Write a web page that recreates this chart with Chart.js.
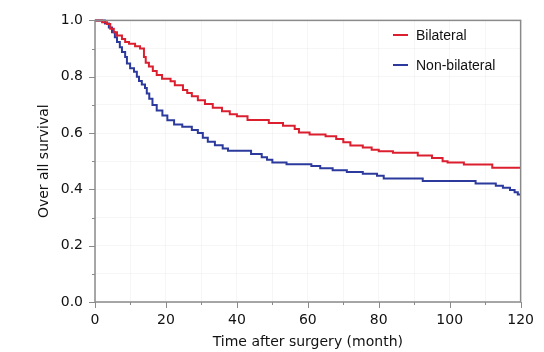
<!DOCTYPE html>
<html>
<head>
<meta charset="utf-8">
<script src="https://cdn.jsdelivr.net/npm/chart.js@4"></script>
<style>
  html, body { margin: 0; padding: 0; background: #fff; }
  #wrap { width: 544px; height: 352px; }
</style>
</head>
<body>
<div id="wrap"><canvas id="chart" width="544" height="352"></canvas></div>
<script>
// Kaplan-Meier steps: time (months) and survival after each drop
const bilateralTime = [0, 2, 3.4, 4.3, 5.3, 6.2, 7.6, 8.5, 9.6, 11.3, 12.7, 13.8, 14.3, 15.2, 16.3, 17.4, 18.9, 21.3, 22.5, 24.8, 26, 27.3, 29, 31, 33.2, 35.8, 38, 40, 43, 49, 53, 56.3, 57.5, 60.5, 65, 68, 70, 72, 75.5, 78, 80, 84, 91, 95, 98, 99.4, 104, 112, 120];
const bilateralSurv = [1.0, 0.993, 0.987, 0.97, 0.958, 0.946, 0.934, 0.923, 0.917, 0.908, 0.9, 0.87, 0.85, 0.836, 0.82, 0.806, 0.793, 0.784, 0.77, 0.753, 0.742, 0.731, 0.716, 0.703, 0.69, 0.677, 0.667, 0.66, 0.646, 0.636, 0.626, 0.614, 0.602, 0.595, 0.589, 0.579, 0.567, 0.556, 0.549, 0.541, 0.535, 0.53, 0.52, 0.511, 0.5, 0.495, 0.488, 0.477, 0.477];

const nonBilateralTime = [0, 2.8, 3.9, 4.8, 5.6, 6.2, 7, 7.6, 8.5, 9, 9.9, 11, 11.8, 12.4, 13.2, 14.1, 14.6, 15.3, 16.2, 17.4, 19, 20.4, 22.3, 24.6, 27.3, 29, 30.4, 31.8, 33.8, 36, 37.5, 44, 47, 48.5, 50, 54, 61, 63.5, 67, 71, 75.5, 79.5, 81.4, 92.4, 107.3, 113, 115, 117, 118.3, 119.2, 120];
const nonBilateralSurv = [1.0, 0.989, 0.975, 0.958, 0.94, 0.923, 0.905, 0.888, 0.87, 0.847, 0.83, 0.818, 0.8, 0.785, 0.772, 0.76, 0.74, 0.722, 0.7, 0.68, 0.662, 0.645, 0.63, 0.622, 0.611, 0.6, 0.583, 0.569, 0.557, 0.545, 0.537, 0.526, 0.514, 0.505, 0.495, 0.489, 0.483, 0.475, 0.468, 0.462, 0.455, 0.448, 0.439, 0.43, 0.421, 0.413, 0.406, 0.398, 0.39, 0.382, 0.382];

const seriesNames = ['Bilateral', 'Non-bilateral'];
const seriesColors = ['#dc1f2e', '#2b3a9c'];

const toPoints = (ts, ss) => ts.map((t, i) => ({ x: t, y: ss[i] }));

const axisGray = '#8a8a8a';
const tickFont = { family: 'DejaVu Sans', size: 14 };
const titleFont = { family: 'DejaVu Sans', size: 14 };

// box around the plot, outward ticks (long at labels, short in between), and the legend
const frameAndLegend = {
  id: 'frameAndLegend',
  afterDraw(chart) {
    const { ctx, chartArea: a, scales: { x, y } } = chart;
    ctx.save();
    ctx.strokeStyle = axisGray;
    ctx.lineWidth = 1.5;
    ctx.strokeRect(a.left, a.top, a.right - a.left, a.bottom - a.top);

    ctx.lineWidth = 1;
    ctx.beginPath();
    for (let t = 0; t <= 120; t += 10) {
      const px = Math.round(x.getPixelForValue(t)) + 0.5;
      ctx.moveTo(px, a.bottom);
      ctx.lineTo(px, a.bottom + (t % 20 === 0 ? 6 : 3));
    }
    for (let k = 0; k <= 10; k++) {
      const py = Math.round(y.getPixelForValue(k / 10)) + 0.5;
      ctx.moveTo(a.left, py);
      ctx.lineTo(a.left - (k % 2 === 0 ? 6 : 3), py);
    }
    ctx.stroke();

    ctx.font = '14px "Liberation Sans", Arial, sans-serif';
    ctx.textBaseline = 'middle';
    ctx.fillStyle = '#111';
    chart.data.datasets.forEach((ds, i) => {
      const ly = 35 + i * 30;
      ctx.strokeStyle = ds.borderColor;
      ctx.lineWidth = 2;
      ctx.beginPath();
      ctx.moveTo(393, ly);
      ctx.lineTo(408, ly);
      ctx.stroke();
      ctx.fillText(ds.label, 416, ly + 1);
    });
    ctx.restore();
  }
};

new Chart(document.getElementById('chart'), {
  type: 'line',
  data: {
    datasets: [
      { label: seriesNames[0], data: toPoints(bilateralTime, bilateralSurv), borderColor: seriesColors[0] },
      { label: seriesNames[1], data: toPoints(nonBilateralTime, nonBilateralSurv), borderColor: seriesColors[1] }
    ]
  },
  options: {
    responsive: false,
    animation: false,
    layout: { padding: { top: 15, right: 22, left: 0, bottom: 0 } },
    elements: {
      line: { borderWidth: 2, stepped: 'before', fill: false },
      point: { radius: 0 }
    },
    datasets: { line: { clip: 4 } },
    plugins: {
      legend: { display: false },
      tooltip: { enabled: false }
    },
    scales: {
      x: {
        type: 'linear',
        min: 0,
        max: 120,
        afterFit: s => { s.height = 50; },
        grid: { color: 'rgba(0,0,0,0.035)', tickLength: 0 },
        border: { display: false },
        ticks: {
          stepSize: 10,
          padding: 10,
          color: '#111',
          font: tickFont,
          autoSkip: false,
          maxRotation: 0,
          callback: v => (v % 20 === 0 ? String(v) : '')
        },
        title: {
          display: true,
          text: 'Time after surgery (month)',
          color: '#111',
          font: titleFont,
          padding: { top: 0, bottom: 1 }
        }
      },
      y: {
        min: 0,
        max: 1,
        afterFit: s => { s.width = 95; },
        grid: { color: 'rgba(0,0,0,0.035)', tickLength: 0 },
        border: { display: false },
        ticks: {
          stepSize: 0.1,
          padding: 12,
          color: '#111',
          font: tickFont,
          autoSkip: false,
          callback: v => (Math.round(v * 10) % 2 === 0 ? v.toFixed(1) : '')
        },
        title: {
          display: true,
          text: 'Over all survival',
          color: '#111',
          font: titleFont,
          padding: { top: 36, bottom: 0 }
        }
      }
    }
  },
  plugins: [frameAndLegend]
});
</script>
</body>
</html>
